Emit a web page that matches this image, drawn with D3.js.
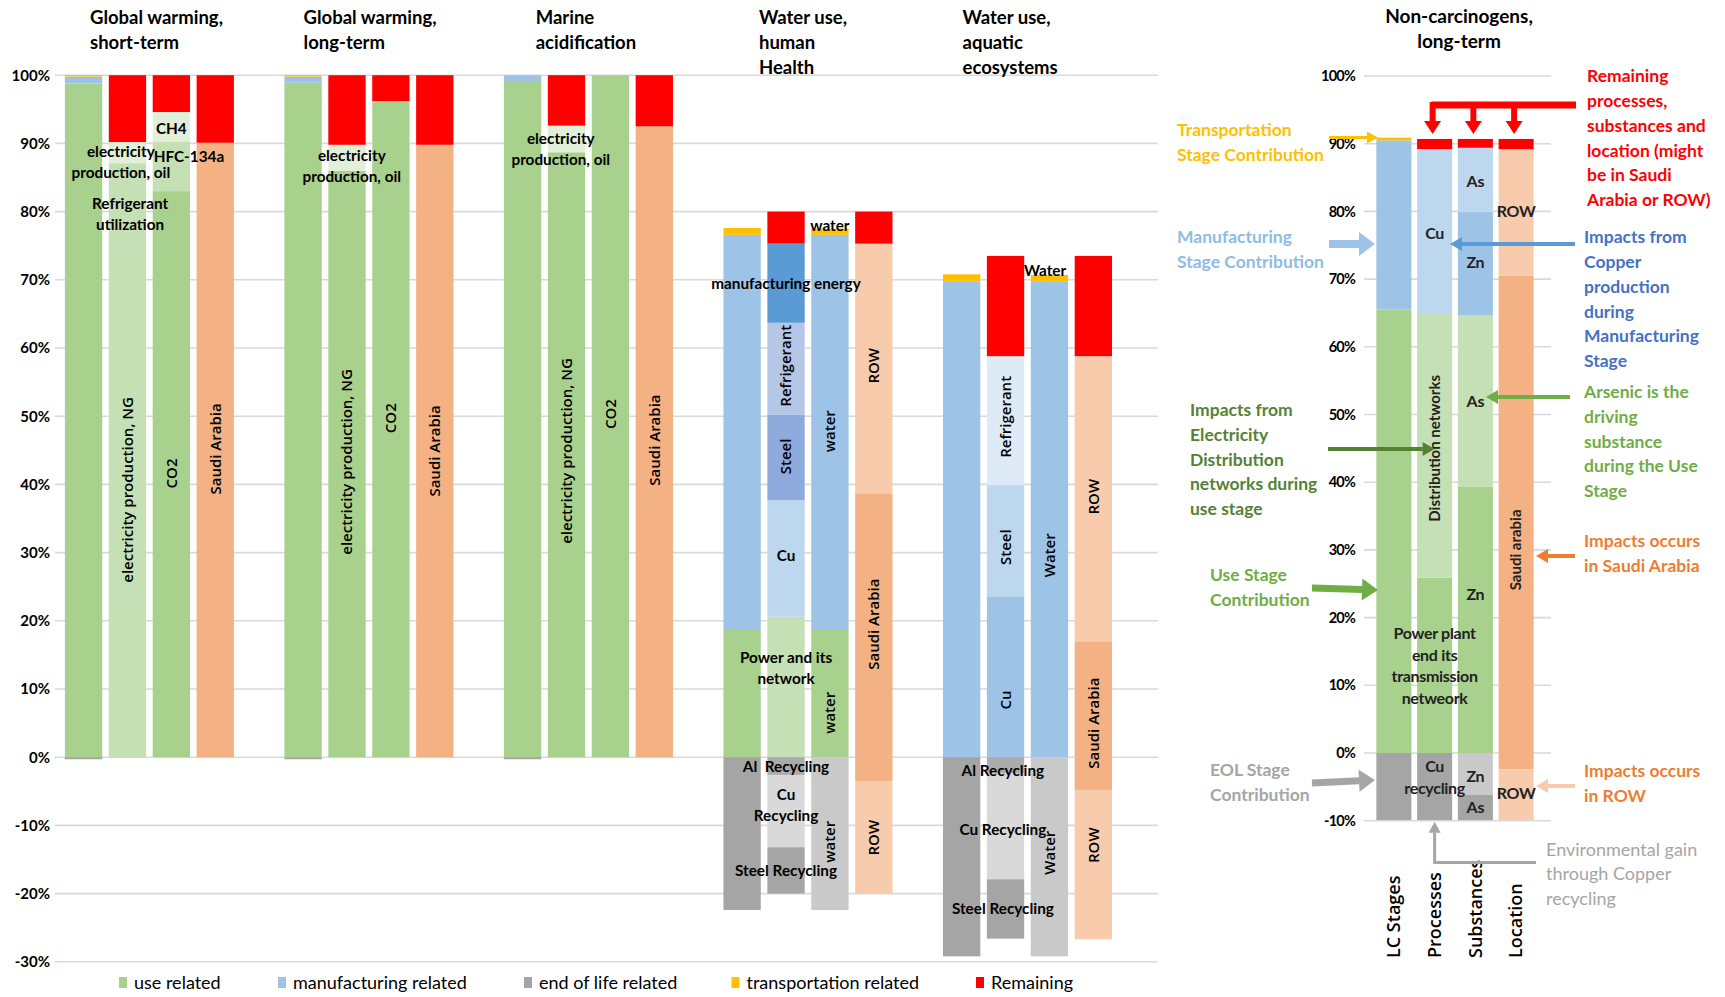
<!DOCTYPE html>
<html>
<head>
<meta charset="utf-8">
<script src="https://cdn.jsdelivr.net/npm/d3@7"></script>
<style>
  body { margin: 0; background: #fff; }
  svg { display: block; }
  text { font-family: Lato, "Open Sans", sans-serif; fill: #000; }
</style>
</head>
<body>
<svg id="chart" width="1725" height="997"></svg>
<script>
// ---- data -------------------------------------------------------------
const panelTitles = [
  ["Global warming,", "short-term"],
  ["Global warming,", "long-term"],
  ["Marine", "acidification"],
  ["Water use,", "human", "Health"],
  ["Water use,", "aquatic", "ecosystems"]
];
const barNames = ["LC Stages", "Processes", "Substances", "Location"];
const leftTicks = [-30, -20, -10, 0, 10, 20, 30, 40, 50, 60, 70, 80, 90, 100];
const rightTicks = [-10, 0, 10, 20, 30, 40, 50, 60, 70, 80, 90, 100];

// segments: [bar index, contributor, tone, share of impact in %]
const gwShortTerm = [
  [0, "use", "use", 98.8], [0, "manufacturing", "mfg", 1.0], [0, "transportation", "transport", 0.2], [0, "end of life", "eol", -0.3],
  [1, "electricity production, NG", "useLight", 87.1], [1, "electricity production, oil", "usePale", 3.1], [1, "remaining", "rem", 9.8],
  [2, "CO2", "use", 83.0], [2, "HFC-134a", "useLight", 7.3], [2, "CH4", "usePale", 4.3], [2, "remaining", "rem", 5.4],
  [3, "Saudi Arabia", "sa", 90.1], [3, "remaining", "rem", 9.9]
];
const gwLongTerm = [
  [0, "use", "use", 98.9], [0, "manufacturing", "mfg", 0.9], [0, "transportation", "transport", 0.2], [0, "end of life", "eol", -0.3],
  [1, "electricity production, NG", "use", 86.0], [1, "electricity production, oil", "usePale", 3.8], [1, "remaining", "rem", 10.2],
  [2, "CO2", "use", 96.2], [2, "remaining", "rem", 3.8],
  [3, "Saudi Arabia", "sa", 89.8], [3, "remaining", "rem", 10.2]
];
const marineAcid = [
  [0, "use", "use", 99.0], [0, "manufacturing", "mfg", 1.0], [0, "end of life", "eol", -0.3],
  [1, "electricity production, NG", "use", 88.7], [1, "electricity production, oil", "usePale", 3.9], [1, "remaining", "rem", 7.4],
  [2, "CO2", "use", 100.0],
  [3, "Saudi Arabia", "sa", 92.5], [3, "remaining", "rem", 7.5]
];
const waterHuman = [
  [0, "use", "use", 18.8], [0, "manufacturing", "mfg", 57.8], [0, "transportation", "transport", 1.0], [0, "end of life", "eol", -22.4],
  [1, "Power and its network", "useLight", 20.6], [1, "Cu", "mfgLight", 17.1], [1, "Steel", "mfgSteel", 12.5],
  [1, "Refrigerant", "mfgLav", 13.5], [1, "manufacturing energy", "mfgDark", 11.6], [1, "remaining", "rem", 4.7],
  [1, "Al Recycling", "eolMid", -2.6], [1, "Cu Recycling", "eolLight", -10.6], [1, "Steel Recycling", "eol", -6.8],
  [2, "water (use)", "use", 18.8], [2, "water (manufacturing)", "mfg", 57.8], [2, "water (transportation)", "transport", 0.9], [2, "water (end of life)", "eolSoft", -22.4],
  [3, "Saudi Arabia", "sa", 38.7], [3, "ROW", "row", 36.6], [3, "remaining", "rem", 4.7],
  [3, "Saudi Arabia", "sa", -3.5], [3, "ROW", "row", -16.5]
];
const waterAquatic = [
  [0, "manufacturing", "mfg", 69.7], [0, "transportation", "transport", 1.1], [0, "end of life", "eol", -29.2],
  [1, "Cu", "mfg", 23.5], [1, "Steel", "mfgLight", 16.4], [1, "Refrigerant", "mfgPale", 18.9], [1, "remaining", "rem", 14.7],
  [1, "Al Recycling", "eolMid", -2.4], [1, "Cu Recycling", "eolLight", -15.5], [1, "Steel Recycling", "eol", -8.7],
  [2, "Water (manufacturing)", "mfg", 69.7], [2, "Water (transportation)", "transport", 1.0], [2, "Water (end of life)", "eolSoft", -29.2],
  [3, "Saudi Arabia", "sa", 17.0], [3, "ROW", "row", 41.8], [3, "remaining", "rem", 14.7],
  [3, "Saudi Arabia", "sa", -4.8], [3, "ROW", "row", -21.9]
];
const nonCarcinogens = [
  [0, "use", "use", 65.5], [0, "manufacturing", "mfg", 25.0], [0, "transportation", "transport", 0.4], [0, "end of life", "eol", -9.9],
  [1, "Power plant and its transmission network", "use", 25.9], [1, "Distribution networks", "useLight", 39.1],
  [1, "Cu", "mfgLight", 24.2], [1, "remaining", "rem", 1.5], [1, "Cu recycling", "eol", -9.9],
  [2, "Zn", "use", 39.3], [2, "As", "useLight", 25.4], [2, "Zn", "mfg", 15.2], [2, "As", "mfgLight", 9.5], [2, "remaining", "rem", 1.3],
  [2, "Zn", "eolSoft", -6.2], [2, "As", "eol", -3.7],
  [3, "Saudi arabia", "sa", 70.5], [3, "ROW", "row", 18.7], [3, "remaining", "rem", 1.5],
  [3, "Saudi arabia", "sa", -2.4], [3, "ROW", "row", -7.5]
];
const leftPanels = [gwShortTerm, gwLongTerm, marineAcid, waterHuman, waterAquatic];

const legendItems = [
  ["use related", "use"], ["manufacturing related", "mfg"], ["end of life related", "eol"],
  ["transportation related", "transport"], ["Remaining", "rem"]
];

// in-bar captions: [panel, bar position, share %, lines, rotated]
const barCaptions = [
  [0, 0.85, 87.2, ["electricity", "production, oil"], false],
  [0, 1.06, 79.6, ["Refrigerant", "utilization"], false],
  [0, 2.0, 92.1, ["CH4"], false],
  [0, 2.4, 88.1, ["HFC-134a"], false],
  [0, 1, 39.2, ["electricity production, NG"], true],
  [0, 2, 41.6, ["CO2"], true],
  [0, 3, 45.2, ["Saudi Arabia"], true],
  [1, 1.11, 86.6, ["electricity", "production, oil"], false],
  [1, 1, 43.3, ["electricity production, NG"], true],
  [1, 2, 49.7, ["CO2"], true],
  [1, 3, 44.9, ["Saudi Arabia"], true],
  [2, 0.87, 89.2, ["electricity", "production, oil"], false],
  [2, 1, 44.9, ["electricity production, NG"], true],
  [2, 2, 50.3, ["CO2"], true],
  [2, 3, 46.5, ["Saudi Arabia"], true],
  [3, 1.0, 69.5, ["manufacturing energy"], false],
  [3, 2.0, 77.9, ["water"], false],
  [3, 1, 57.4, ["Refrigerant"], true],
  [3, 1, 44.1, ["Steel"], true],
  [3, 2, 47.8, ["water"], true],
  [3, 3, 57.4, ["ROW"], true],
  [3, 1, 29.6, ["Cu"], false],
  [3, 1, 13.0, ["Power and its", "network"], false],
  [3, 2, 6.5, ["water"], true],
  [3, 3, 19.5, ["Saudi Arabia"], true],
  [3, 1.0, -1.4, ["Al\u00A0 Recycling"], false],
  [3, 1, -7.0, ["Cu", "Recycling"], false],
  [3, 2, -12.4, ["water"], true],
  [3, 1, -16.6, ["Steel Recycling"], false],
  [3, 3, -11.8, ["ROW"], true],
  [4, 1.9, 71.3, ["Water"], false],
  [4, 1, 49.9, ["Refrigerant"], true],
  [4, 3, 38.2, ["ROW"], true],
  [4, 1, 30.8, ["Steel"], true],
  [4, 2, 29.6, ["Water"], true],
  [4, 1, 8.4, ["Cu"], true],
  [4, 3, 5.0, ["Saudi Arabia"], true],
  [4, 0.94, -1.9, ["Al Recycling"], false],
  [4, 0.94, -10.6, ["Cu Recycling"], false],
  [4, 2, -14.0, ["Water"], true],
  [4, 3, -12.9, ["ROW"], true],
  [4, 0.94, -22.2, ["Steel Recycling"], false]
];

// captions of the non-carcinogens bars: [bar, share %, lines, rotated]
const nonCarcCaptions = [
  [2, 84.5, ["As"], false],
  [1, 76.8, ["Cu"], false],
  [3, 80.0, ["ROW"], false],
  [2, 72.4, ["Zn"], false],
  [1, 45.0, ["Distribution networks"], true],
  [2, 52.0, ["As"], false],
  [3, 30.0, ["Saudi arabia"], true],
  [2, 23.5, ["Zn"], false],
  [1, 12.9, ["Power plant", "end its", "transmission", "netweork"], false],
  [1, -2.0, ["Cu"], false],
  [1, -5.3, ["recycling"], false],
  [2, -3.4, ["Zn"], false],
  [2, -8.0, ["As"], false],
  [3, -6.0, ["ROW"], false]
];

// ---- styles -------------------------------------------------------------
const tones = {
  use: "#A9D18E", useLight: "#C5E0B4", usePale: "#E2F0D9",
  mfg: "#9DC3E6", mfgDark: "#5B9BD5", mfgLight: "#BDD7EE", mfgPale: "#DEEBF7",
  mfgLav: "#B4C7E7", mfgSteel: "#8FAADC",
  eol: "#A5A5A5", eolMid: "#ABABAB", eolLight: "#D9D9D9", eolSoft: "#C9C9C9",
  transport: "#FFC000", rem: "#FF0000", sa: "#F4B183", row: "#F8CBAD"
};

// ---- helpers -------------------------------------------------------------
function stack(segs) {
  const acc = {};
  return segs.map(([bar, name, tone, v]) => {
    const a = acc[bar] || (acc[bar] = { pos: 0, neg: 0 });
    let lo, hi;
    if (v >= 0) { lo = a.pos; hi = a.pos + v; a.pos = hi; }
    else { hi = a.neg; lo = a.neg + v; a.neg = lo; }
    return { bar, name, tone, v, lo, hi };
  });
}

const svg = d3.select("#chart");

function multiline(g, x, y, lines, lh, opts) {
  const t = g.append("text")
    .attr("text-anchor", opts.anchor || "middle")
    .style("font-size", opts.size + "px")
    .style("font-weight", opts.weight || 700)
    .style("font-family", opts.family || null)
    .style("fill", opts.fill || "#000")
    .style("letter-spacing", opts.ls || null)
    .style("white-space", "pre");
  const y0 = y - (lines.length - 1) * lh / 2;
  lines.forEach((s, i) => t.append("tspan").attr("x", x).attr("y", y0 + i * lh).attr("dy", "0.35em").text(s));
  return t;
}

function rotated(g, x, y, s, opts) {
  return g.append("text")
    .attr("transform", `translate(${x},${y}) rotate(-90)`)
    .attr("text-anchor", opts.anchor || "middle")
    .attr("dy", "0.35em")
    .style("font-size", opts.size + "px")
    .style("font-weight", opts.weight || 600)
    .style("font-family", opts.family || "'Open Sans', sans-serif")
    .style("fill", opts.fill || "#000")
    .text(s);
}

function arrow(g, pts, color, w, headLen, headW) {
  const n = pts.length;
  const [xa, ya] = pts[n - 2], [xb, yb] = pts[n - 1];
  const len = Math.hypot(xb - xa, yb - ya);
  const ux = (xb - xa) / len, uy = (yb - ya) / len;
  const bx = xb - ux * headLen, by = yb - uy * headLen;
  const line = pts.slice(0, n - 1).concat([[bx, by]]);
  g.append("path").attr("d", d3.line()(line)).attr("fill", "none")
    .attr("stroke", color).attr("stroke-width", w);
  const px = -uy, py = ux;
  g.append("path")
    .attr("d", d3.line()([[xb, yb], [bx + px * headW / 2, by + py * headW / 2], [bx - px * headW / 2, by - py * headW / 2]]) + "Z")
    .attr("fill", color);
}

// ---- left chart: five impact categories ---------------------------------
const xL = d3.scaleBand().domain(d3.range(25)).range([61.6, 1159.2]).paddingInner(0.15).paddingOuter(0.075);
const yL = d3.scaleLinear().domain([-30, 100]).range([961.8, 75.2]);

const gL = svg.append("g");
gL.selectAll("line.grid").data(leftTicks).join("line")
  .attr("x1", 55).attr("x2", 1158)
  .attr("y1", d => yL(d)).attr("y2", d => yL(d))
  .attr("stroke", "#D9D9D9").attr("stroke-width", 1.6);

const axL = d3.axisLeft(yL).tickValues(leftTicks).tickSize(0).tickPadding(0).tickFormat(d => d + "%");
gL.append("g").attr("transform", "translate(50,0)").call(axL)
  .call(g => g.select(".domain").remove())
  .selectAll("text").style("font-family", "Lato, sans-serif").style("font-size", "15px")
  .style("font-weight", 700).attr("fill", "#222");

leftPanels.forEach((segs, p) => {
  const pg = gL.append("g");
  pg.selectAll("rect").data(stack(segs)).join("rect")
    .attr("x", d => xL(p * 5 + d.bar))
    .attr("width", xL.bandwidth())
    .attr("y", d => yL(d.hi))
    .attr("height", d => yL(d.lo) - yL(d.hi))
    .attr("fill", d => tones[d.tone]);
});

const capX = (p, b) => xL(p * 5) + xL.bandwidth() / 2 + b * xL.step();
const gCap = svg.append("g");
barCaptions.forEach(([p, b, v, lines, rot]) => {
  if (rot) rotated(gCap, capX(p, b), yL(v), lines[0], { size: 15 });
  else multiline(gCap, capX(p, b), yL(v), lines, 21, { size: 15.3 });
});

// titles above each group
const titleX = [90, 303.6, 535.7, 759, 962.5];
panelTitles.forEach((lines, p) => {
  const t = svg.append("text").style("font-size", "18.5px").style("font-weight", 700);
  lines.forEach((s, i) => t.append("tspan").attr("x", titleX[p]).attr("y", 24 + i * 25).text(s));
});

// legend
const legendX = [119, 278, 524, 731.5, 976];
const lg = svg.append("g");
legendItems.forEach(([label, tone], i) => {
  lg.append("rect").attr("x", legendX[i]).attr("y", 977).attr("width", 8).attr("height", 11).attr("fill", tones[tone]);
  lg.append("text").attr("x", legendX[i] + 15).attr("y", 982.5).attr("dy", "0.35em")
    .style("font-size", "18px").style("font-weight", 400).text(label);
});

// ---- right chart: non-carcinogens, long-term ----------------------------
const xR = d3.scaleBand().domain(barNames).range([1373.5, 1536.5]).paddingInner(0.14).paddingOuter(0.07);
const yR = d3.scaleLinear().domain([-10, 100]).range([820.7, 76]);

const gR = svg.append("g");
gR.selectAll("line.grid").data(rightTicks).join("line")
  .attr("x1", 1364).attr("x2", 1551)
  .attr("y1", d => yR(d)).attr("y2", d => yR(d))
  .attr("stroke", "#D9D9D9").attr("stroke-width", 1.6);

const axR = d3.axisLeft(yR).tickValues(rightTicks).tickSize(0).tickPadding(0).tickFormat(d => d + "%");
gR.append("g").attr("transform", "translate(1355,0)").call(axR)
  .call(g => g.select(".domain").remove())
  .selectAll("text").style("font-family", "Lato, sans-serif").style("font-size", "14.5px")
  .style("font-weight", 700).style("letter-spacing", "-0.8px").attr("fill", "#222");

gR.selectAll("rect").data(stack(nonCarcinogens)).join("rect")
  .attr("x", d => xR(barNames[d.bar]))
  .attr("width", xR.bandwidth())
  .attr("y", d => yR(d.hi))
  .attr("height", d => yR(d.lo) - yR(d.hi))
  .attr("fill", d => tones[d.tone]);

const capXR = b => xR(barNames[b]) + xR.bandwidth() / 2;
nonCarcCaptions.forEach(([b, v, lines, rot]) => {
  if (rot) rotated(gR, capXR(b), yR(v), lines[0], { size: 15, weight: 700, family: "Lato, sans-serif", fill: "#222" });
  else multiline(gR, capXR(b), yR(v), lines, 21.5, { size: 16, fill: "#222", ls: "-0.3px" });
});

// category names under the bars
barNames.forEach((name, i) => {
  rotated(gR, capXR(i), 958, name, { size: 18, anchor: "start", weight: 600 });
});

svg.append("text").attr("text-anchor", "middle").style("font-size", "19px").style("font-weight", 700)
  .call(t => ["Non-carcinogens,", "long-term"].forEach((s, i) =>
    t.append("tspan").attr("x", 1459).attr("y", 23 + i * 25).text(s)));

// ---- call-outs ------------------------------------------------------------
const ga = svg.append("g");
const note = (x, y, lines, fill, weight, size) =>
  multiline(ga, x, y, lines, 24.8, { size: size || 17.5, anchor: "start", fill, weight: weight || 700 });

note(1177, 142, ["Transportation", "Stage Contribution"], "#FFC000");
arrow(ga, [[1329, yR(90.9)], [1378, yR(90.9)]], "#FFC000", 3, 11, 12);

note(1177, 249, ["Manufacturing", "Stage Contribution"], "#8FBCE4");
arrow(ga, [[1329, 244], [1375, 244]], "#9DC3E6", 8, 16, 24);

note(1190, 459.5, ["Impacts from", "Electricity", "Distribution", "networks during", "use stage"], "#548235");
arrow(ga, [[1328, 449], [capXR(1), 449]], "#548235", 4, 12, 14);

note(1210, 587.5, ["Use Stage", "Contribution"], "#70AD47");
arrow(ga, [[1312, 588], [1378, 590]], "#70AD47", 7, 16, 22);

note(1210, 782, ["EOL Stage", "Contribution"], "#A5A5A5");
arrow(ga, [[1312, 783], [1375, 780]], "#A5A5A5", 7, 16, 22);

note(1587, 138, ["Remaining", "processes,", "substances and", "location (might", "be in Saudi", "Arabia or ROW)"], "#FF0000");
ga.append("path").attr("d", d3.line()([[capXR(1) - 3, 105], [1576, 105]]))
  .attr("stroke", "#FF0000").attr("stroke-width", 7).attr("fill", "none");
[1, 2, 3].forEach(b => arrow(ga, [[capXR(b) - 2, 102], [capXR(b) - 2, 134]], "#FF0000", 6, 13, 17));

note(1584, 299, ["Impacts from", "Copper", "production", "during", "Manufacturing", "Stage"], "#4472C4");
arrow(ga, [[1575, 244], [1450, 244]], "#5B9BD5", 4, 12, 14);

note(1584, 441.5, ["Arsenic is the", "driving", "substance", "during the Use", "Stage"], "#70AD47");
arrow(ga, [[1570, 397], [1486, 397]], "#70AD47", 4, 12, 14);

note(1584, 553, ["Impacts occurs", "in Saudi Arabia"], "#ED7D31");
arrow(ga, [[1575, 556], [1536, 556]], "#ED7D31", 4, 12, 14);

note(1584, 783, ["Impacts occurs", "in ROW"], "#ED7D31");
arrow(ga, [[1575, 786], [1536, 786]], "#F8CBAD", 4, 12, 14);

note(1546, 874, ["Environmental gain", "through Copper", "recycling"], "#A5A5A5", 400, 18);
arrow(ga, [[1536, 862.5], [capXR(1), 862.5], [capXR(1), yR(-10) + 1]], "#A5A5A5", 3, 11, 12);
</script>
</body>
</html>
